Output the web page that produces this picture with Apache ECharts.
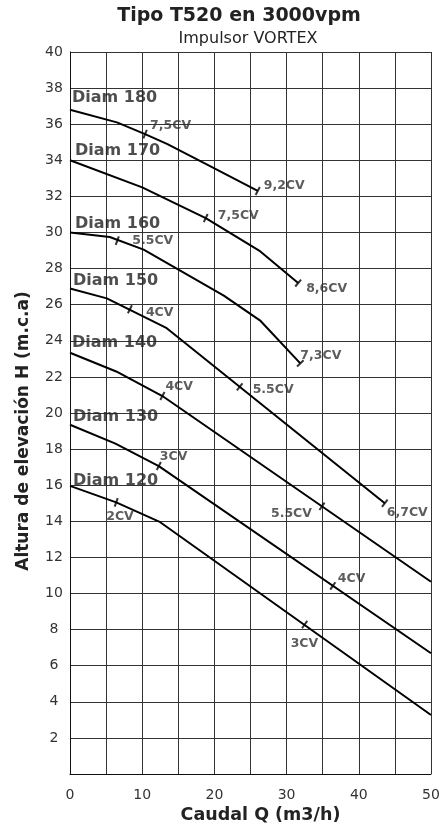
<!DOCTYPE html>
<html>
<head>
<meta charset="utf-8">
<script src="https://cdn.jsdelivr.net/npm/echarts@6/dist/echarts.min.js"></script>
<style>
html, body { margin: 0; padding: 0; background: #fff; }
#main { width: 444px; height: 830px; }
</style>
</head>
<body>
<div id="main"></div>
<script>
// curvas H(Q) de cada diametro de impulsor
var diams = ['Diam 180', 'Diam 170', 'Diam 160', 'Diam 150', 'Diam 140', 'Diam 130', 'Diam 120'];
var q180 = [0, 6.5, 10.4, 13.5, 19.8, 26.0];
var h180 = [36.8, 36.1, 35.45, 34.9, 33.6, 32.3];
var q170 = [0, 10, 18.8, 26.2, 31.6];
var h170 = [34.0, 32.5, 30.8, 29.0, 27.2];
var q160 = [0, 5.5, 10.2, 21.3, 26.4, 31.9];
var h160 = [30.0, 29.75, 29.05, 26.5, 25.1, 22.75];
var q150 = [0, 5.1, 13.4, 43.6];
var h150 = [26.9, 26.35, 24.7, 15.0];
var q140 = [0, 6.4, 12.8, 50];
var h140 = [23.34, 22.3, 20.94, 10.65];
var q130 = [0, 6.3, 12.3, 50];
var h130 = [19.35, 18.3, 17.06, 6.69];
var q120 = [0, 6.4, 12.5, 50];
var h120 = [15.96, 15.05, 13.95, 3.27];

// marcas de potencia
var tickCurve = [0, 0, 1, 1, 2, 2, 3, 3, 3, 4, 4, 5, 5, 6, 6];
var tickQ = [10.4, 26.0, 18.8, 31.6, 6.55, 31.9, 8.3, 23.5, 43.6, 12.8, 34.9, 12.3, 36.4, 6.4, 32.5];
var tickH = [35.45, 32.3, 30.8, 27.2, 29.55, 22.75, 25.75, 21.45, 15.0, 20.94, 14.83, 17.06, 10.42, 15.05, 8.28];
var tickText = ['7,5CV', '9,2CV', '7,5CV', '8,6CV', '5.5CV', '7,3CV', '4CV', '5.5CV', '6,7CV', '4CV', '5.5CV', '3CV', '4CV', '2CV', '3CV'];

var xTicks = [0, 10, 20, 30, 40, 50];

// posicion de los textos (px respecto al punto)
var tickLabelPos = [[5, -8], [6, -5], [12, -2], [8, 6], [15, 0], [0, -8], [16, 4], [13, 3], [2, 9], [3, -9], [-51, 7], [1, -9], [5, -7], [-10, 14], [-14, 19]];
var diamLabelPos = [[2, -12], [5, -9.5], [5, -8.5], [3, -8], [2, -10], [3, -8], [3, -5.5]];

var curvesQ = [q180, q170, q160, q150, q140, q130, q120];
var curvesH = [h180, h170, h160, h150, h140, h130, h120];

var gridW = 361, gridH = 722;
var ratio = (gridH / 40) / (gridW / 50);

function slopeAt(c, q) {
  var qs = curvesQ[c], hs = curvesH[c];
  for (var i = 1; i < qs.length; i++) {
    if (q <= qs[i] + 0.01) return (hs[i] - hs[i - 1]) / (qs[i] - qs[i - 1]);
  }
  var n = qs.length - 1;
  return (hs[n] - hs[n - 1]) / (qs[n] - qs[n - 1]);
}

var font = 'DejaVu Sans';
var series = [];

curvesQ.forEach(function (qs, c) {
  series.push({
    name: diams[c],
    type: 'line',
    data: qs.map(function (q, i) { return [q, curvesH[c][i]]; }),
    symbol: 'none',
    lineStyle: { color: '#000', width: 2 },
    z: 3
  });
});

// marcas cortas perpendiculares
series.push({
  type: 'scatter',
  symbol: 'rect',
  symbolSize: [2, 9],
  itemStyle: { color: '#000' },
  data: tickQ.map(function (q, i) {
    var a = Math.atan(slopeAt(tickCurve[i], q) * ratio) * 180 / Math.PI;
    return { value: [q, tickH[i]], symbolRotate: a };
  }),
  z: 4
});

// textos de potencia
series.push({
  type: 'scatter',
  symbolSize: 0,
  itemStyle: { color: 'transparent' },
  data: tickQ.map(function (q, i) {
    return {
      value: [q, tickH[i]],
      label: {
        show: true,
        formatter: tickText[i],
        position: tickLabelPos[i],
        align: 'left',
        verticalAlign: 'middle',
        fontFamily: font,
        fontWeight: 'bold',
        fontSize: 12.5,
        color: '#333'
      }
    };
  }),
  z: 5
});

// nombres de curvas
series.push({
  type: 'scatter',
  symbolSize: 0,
  itemStyle: { color: 'transparent' },
  data: diams.map(function (d, c) {
    return {
      value: [curvesQ[c][0], curvesH[c][0]],
      label: {
        show: true,
        formatter: d,
        position: diamLabelPos[c],
        align: 'left',
        verticalAlign: 'middle',
        fontFamily: font,
        fontWeight: 'bold',
        fontSize: 16,
        color: '#222'
      }
    };
  }),
  z: 5
});

var myChart = echarts.init(document.getElementById('main'));
myChart.setOption({
  animation: false,
  backgroundColor: '#fff',
  title: [{
    text: 'Tipo T520 en 3000vpm',
    left: 239, top: 7, padding: 0, textAlign: 'center',
    textStyle: { fontFamily: font, fontWeight: 'bold', fontSize: 19, color: '#222' }
  }, {
    text: 'Impulsor VORTEX',
    left: 248, top: 31, padding: 0, textAlign: 'center',
    textStyle: { fontFamily: font, fontWeight: 'normal', fontSize: 16, color: '#222' }
  }],
  grid: { left: 70, top: 52, width: gridW, height: gridH },
  xAxis: {
    type: 'value', min: 0, max: 50, interval: 5,
    name: 'Caudal Q (m3/h)', nameLocation: 'middle', nameGap: 29,
    nameTextStyle: { fontFamily: font, fontWeight: 'bold', fontSize: 17.5, color: '#222', padding: [0, 0, 0, 20] },
    axisLine: { lineStyle: { color: '#111', width: 1 } },
    axisTick: { show: false },
    splitLine: { lineStyle: { color: '#333', width: 1 } },
    axisLabel: {
      margin: 14, fontFamily: font, fontSize: 14, color: '#333',
      formatter: function (v) { return xTicks.indexOf(v) >= 0 ? String(v) : ''; }
    }
  },
  yAxis: {
    type: 'value', min: 0, max: 40, interval: 2,
    name: 'Altura de elevación H (m.c.a)', nameLocation: 'middle', nameGap: 38,
    nameTextStyle: { fontFamily: font, fontWeight: 'bold', fontSize: 17, color: '#222', padding: [0, 36, 0, 0] },
    axisLine: { show: true, lineStyle: { color: '#111', width: 1 } },
    axisTick: { show: false },
    splitLine: { lineStyle: { color: '#333', width: 1 } },
    axisLabel: {
      margin: 16, align: 'center', padding: [0, 0, 10, 0],
      fontFamily: font, fontSize: 14, color: '#333',
      formatter: function (v) { return v === 0 ? '' : String(v); }
    }
  },
  series: series
});
</script>
</body>
</html>
